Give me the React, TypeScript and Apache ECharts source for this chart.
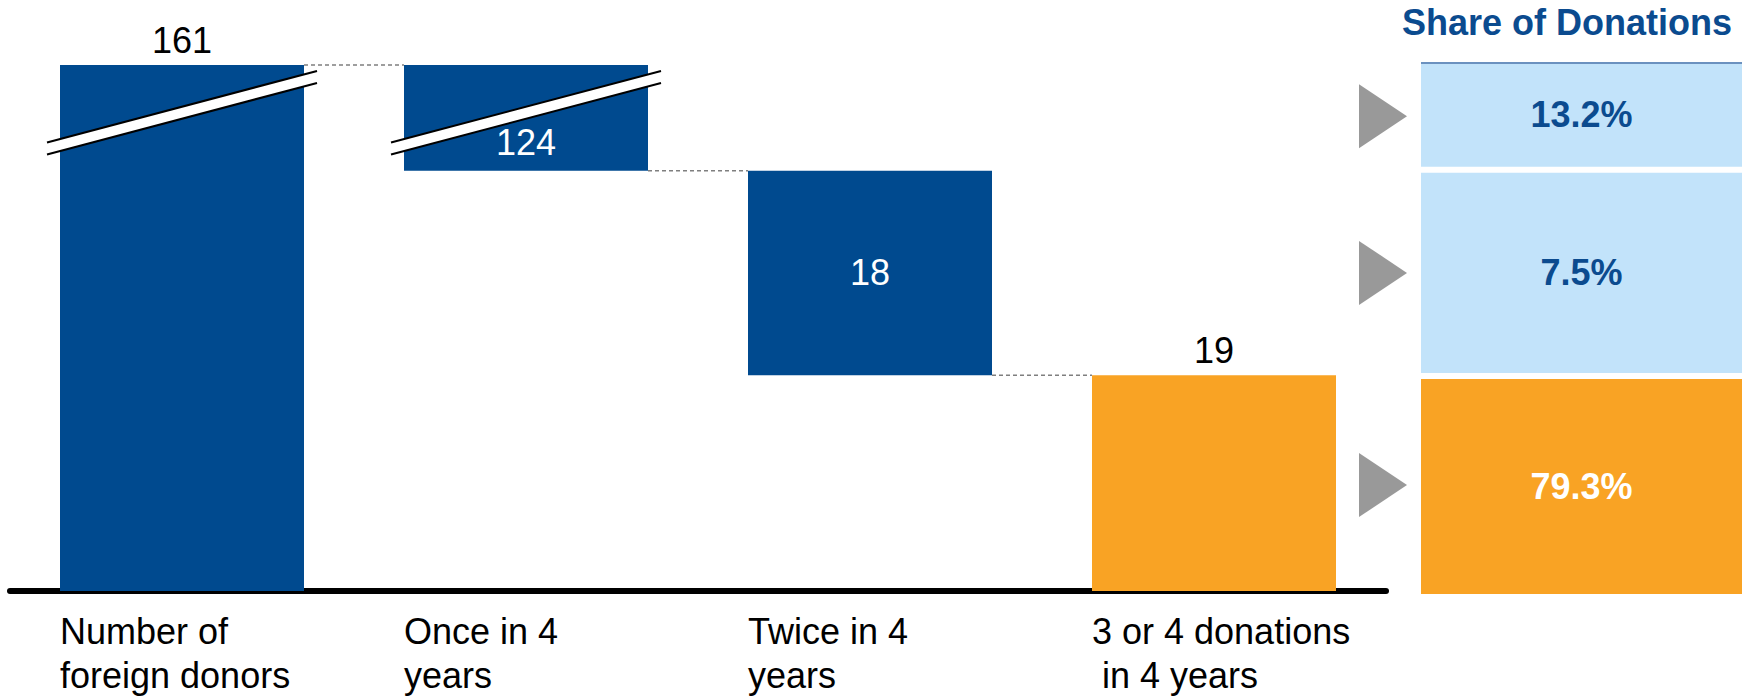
import React, { useEffect, useRef } from "react";
import * as echarts from "echarts";

const categories = [
  "Number of\nforeign donors",
  "Once in 4\nyears",
  "Twice in 4\nyears",
  "3 or 4 donations\n in 4 years",
];
const values = [161, 124, 18, 19];
const shareLabels = ["", "13.2%", "7.5%", "79.3%"];
const axisBreak = { start: 41.5, end: 157.4, gap: 1.2 };

const BLUE = "#004a8f";
const ORANGE = "#f9a324";
const LIGHT = "#c2e3fa";
const TITLE_BLUE = "#0b4b8f";
const FONT = "'Liberation Sans', Arial, sans-serif";
const BAR_W = 244;

export default function App() {
  const ref = useRef<HTMLDivElement>(null);
  useEffect(() => {
    document.body.style.margin = "0";
    const chart = echarts.init(ref.current!, undefined, { renderer: "svg" });

    // waterfall bases
    const bases: number[] = [0];
    let running = values[0];
    for (let i = 1; i < values.length; i++) {
      running -= values[i];
      bases.push(running);
    }
    const tops = values.map((v, i) => bases[i] + v);
    const connectors = [0, 1, 2].map((i) => [i, bases[i + 1] + values[i + 1]]);
    const segments = [1, 2, 3].map((i) => [bases[i], tops[i], i]);

    const labelCfg = (i: number) => {
      const base = { show: true, fontSize: 36, fontFamily: FONT };
      if (i === 0 || i === 3)
        return { ...base, position: "top", distance: 7, color: "#000" };
      if (i === 1)
        return { ...base, position: "insideBottom", distance: 10, color: "#fff" };
      return { ...base, position: "inside", color: "#fff" };
    };

    chart.setOption({
      animation: false,
      title: {
        text: "Share of Donations",
        left: 1402,
        top: 4,
        padding: 0,
        textStyle: { color: TITLE_BLUE, fontSize: 36, fontWeight: "bold", fontFamily: FONT },
      },
      grid: [
        { left: 10, right: 364, top: 65, bottom: 105 },
        { left: 1421, right: 8, top: 63, bottom: 102 },
      ],
      xAxis: [
        {
          type: "category",
          gridIndex: 0,
          data: categories,
          offset: 3,
          axisTick: { show: false },
          axisLine: { lineStyle: { color: "#000", width: 6 } },
          axisLabel: {
            interval: 0,
            margin: 15,
            formatter: (v: string) =>
              v.split("\n").map((l) => `{a|${l}}`).join("\n"),
            rich: {
              a: {
                width: BAR_W,
                align: "left",
                fontSize: 36,
                lineHeight: 44,
                fontFamily: FONT,
                color: "#000",
              },
            },
          },
        },
        { type: "value", gridIndex: 1, min: 0, max: 1, show: false },
      ],
      yAxis: [
        {
          type: "value",
          gridIndex: 0,
          min: 0,
          max: 161,
          show: false,
          splitLine: { show: false },
          breaks: [axisBreak],
          breakArea: { show: false },
        },
        {
          type: "value",
          gridIndex: 1,
          min: 0,
          max: 161,
          show: false,
          splitLine: { show: false },
          breaks: [axisBreak],
          breakArea: { show: false },
        },
      ],
      series: [
        {
          type: "bar",
          stack: "wf",
          barWidth: BAR_W,
          itemStyle: { color: "transparent" },
          data: bases,
          silent: true,
        },
        {
          type: "bar",
          stack: "wf",
          barWidth: BAR_W,
          data: values.map((v, i) => ({
            value: v,
            itemStyle: { color: i === 3 ? ORANGE : BLUE },
            label: labelCfg(i),
          })),
        },
        {
          type: "custom",
          z: 5,
          data: connectors,
          renderItem: (params: any, api: any) => {
            const i = api.value(0);
            const v = api.value(1);
            const p1 = api.coord([i, v]);
            const p2 = api.coord([i + 1, v]);
            return {
              type: "line",
              shape: { x1: p1[0] + BAR_W / 2, y1: p1[1], x2: p2[0] - BAR_W / 2, y2: p2[1] },
              style: { stroke: "#7f7f7f", lineWidth: 1.5, lineDash: [4, 3] },
            };
          },
        },
        {
          type: "custom",
          z: 6,
          data: [[0], [1]],
          renderItem: (params: any, api: any) => {
            const i = api.value(0);
            const a = api.coord([i, axisBreak.start]);
            const b = api.coord([i, axisBreak.end]);
            const cx = a[0];
            const cy = (a[1] + b[1]) / 2;
            const slope = 0.265;
            const ext = BAR_W / 2 + 13;
            const x0 = cx - ext;
            const x1 = cx + ext;
            const y0 = cy + slope * ext;
            const y1 = cy - slope * ext;
            const h = 6;
            return {
              type: "group",
              children: [
                {
                  type: "polygon",
                  shape: { points: [[x0, y0 - h], [x1, y1 - h], [x1, y1 + h], [x0, y0 + h]] },
                  style: { fill: "#fff" },
                },
                {
                  type: "line",
                  shape: { x1: x0, y1: y0 - h, x2: x1, y2: y1 - h },
                  style: { stroke: "#000", lineWidth: 2 },
                },
                {
                  type: "line",
                  shape: { x1: x0, y1: y0 + h, x2: x1, y2: y1 + h },
                  style: { stroke: "#000", lineWidth: 2 },
                },
              ],
            };
          },
        },
        {
          type: "custom",
          xAxisIndex: 1,
          yAxisIndex: 1,
          data: segments,
          renderItem: (params: any, api: any) => {
            const lo = api.value(0);
            const hi = api.value(1);
            const idx = api.value(2);
            const pLo = api.coord([0, lo]);
            const pHi = api.coord([1, hi]);
            const xl = pLo[0];
            const xr = pHi[0];
            const yTop = pHi[1] + (hi >= 161 ? 0 : 3);
            const yBot = pLo[1] - (lo <= 0 ? 0 : 3);
            const mid = (pLo[1] + pHi[1]) / 2;
            const isLast = idx === 3;
            const children: any[] = [
              {
                type: "rect",
                shape: { x: xl, y: yTop, width: xr - xl, height: yBot - yTop },
                style: { fill: isLast ? ORANGE : LIGHT },
              },
              {
                type: "polygon",
                shape: { points: [[xl - 62, mid - 32], [xl - 14, mid], [xl - 62, mid + 32]] },
                style: { fill: "#999999" },
              },
              {
                type: "text",
                style: {
                  text: shareLabels[idx],
                  x: (xl + xr) / 2,
                  y: (yTop + yBot) / 2,
                  align: "center",
                  verticalAlign: "middle",
                  fill: isLast ? "#fff" : TITLE_BLUE,
                  fontSize: 36,
                  fontWeight: "bold",
                  fontFamily: FONT,
                },
              },
            ];
            if (hi >= 161) {
              children.push({
                type: "line",
                shape: { x1: xl, y1: yTop, x2: xr, y2: yTop },
                style: { stroke: "#6b91bf", lineWidth: 2 },
              });
            }
            return { type: "group", children };
          },
        },
      ],
    });
    return () => chart.dispose();
  }, []);
  return <div ref={ref} style={{ width: 1750, height: 696 }} />;
}
